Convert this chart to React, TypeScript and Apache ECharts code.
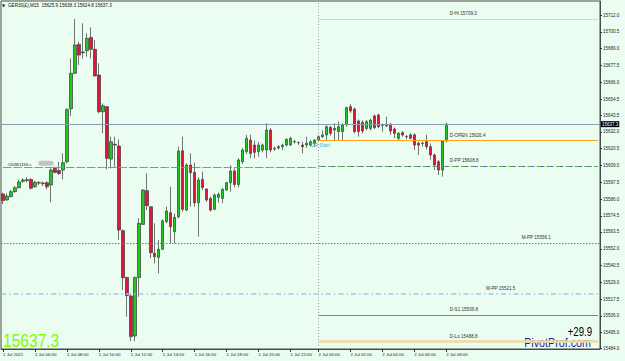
import React, { useEffect, useRef } from 'react';
import * as echarts from 'echarts';

// [open, high, low, close] per M15 bar, 1 Jul 2021 04:00 -> 2 Jul 2021 08:00
const bars: number[][] = [
  [15589.5, 15590.4, 15582.6, 15585.0],
  [15585.4, 15590.0, 15585.0, 15588.1],
  [15587.7, 15592.2, 15587.2, 15591.1],
  [15591.1, 15595.0, 15590.4, 15593.8],
  [15593.8, 15599.5, 15593.4, 15597.7],
  [15598.2, 15600.2, 15597.2, 15599.1],
  [15599.3, 15601.0, 15597.5, 15598.8],
  [15599.5, 15600.2, 15592.7, 15593.4],
  [15594.5, 15598.6, 15593.8, 15597.5],
  [15597.3, 15598.2, 15595.6, 15597.0],
  [15597.0, 15598.0, 15595.0, 15596.6],
  [15597.2, 15598.2, 15592.7, 15594.5],
  [15595.7, 15607.1, 15583.8, 15605.9],
  [15607.1, 15608.2, 15603.6, 15604.3],
  [15605.5, 15611.6, 15602.5, 15603.6],
  [15605.9, 15617.3, 15599.5, 15610.9],
  [15611.6, 15648.1, 15610.5, 15647.4],
  [15647.9, 15682.3, 15642.9, 15672.1],
  [15672.1, 15709.3, 15671.6, 15691.5],
  [15691.9, 15693.7, 15677.8, 15684.6],
  [15686.7, 15706.3, 15682.3, 15686.2],
  [15687.6, 15699.5, 15683.5, 15696.0],
  [15696.7, 15703.6, 15682.3, 15688.5],
  [15688.5, 15694.9, 15669.8, 15670.3],
  [15670.9, 15678.9, 15644.7, 15645.8],
  [15645.8, 15651.5, 15631.0, 15649.9],
  [15649.3, 15649.7, 15606.4, 15613.9],
  [15613.4, 15628.7, 15607.1, 15625.3],
  [15623.5, 15628.7, 15608.2, 15623.0],
  [15622.3, 15626.9, 15558.0, 15564.8],
  [15564.4, 15565.3, 15523.8, 15532.2],
  [15532.4, 15532.9, 15505.5, 15519.9],
  [15519.7, 15521.5, 15488.8, 15491.9],
  [15492.3, 15532.9, 15488.8, 15532.4],
  [15532.4, 15572.9, 15519.2, 15569.4],
  [15568.7, 15592.7, 15568.3, 15592.2],
  [15591.8, 15603.6, 15578.5, 15581.5],
  [15580.8, 15580.8, 15545.5, 15549.3],
  [15548.9, 15569.4, 15542.0, 15546.6],
  [15546.1, 15558.0, 15535.2, 15551.6],
  [15551.6, 15572.2, 15551.6, 15571.2],
  [15570.6, 15580.8, 15569.4, 15577.8],
  [15576.7, 15594.5, 15555.7, 15567.1],
  [15563.7, 15576.2, 15555.7, 15573.5],
  [15574.0, 15621.9, 15572.8, 15618.9],
  [15619.1, 15628.7, 15577.4, 15579.0],
  [15578.5, 15610.5, 15577.8, 15609.3],
  [15609.3, 15617.3, 15580.8, 15604.1],
  [15604.3, 15610.9, 15580.8, 15583.5],
  [15583.5, 15600.9, 15560.3, 15599.1],
  [15599.5, 15604.8, 15592.2, 15594.0],
  [15592.9, 15593.4, 15584.2, 15585.4],
  [15586.5, 15587.7, 15577.4, 15578.5],
  [15579.0, 15590.0, 15578.5, 15588.8],
  [15587.2, 15590.4, 15583.5, 15589.3],
  [15586.5, 15593.4, 15583.1, 15592.7],
  [15592.2, 15597.9, 15591.8, 15597.2],
  [15597.2, 15609.3, 15591.0, 15605.2],
  [15605.2, 15607.0, 15594.0, 15596.0],
  [15596.0, 15614.0, 15594.0, 15612.8],
  [15611.6, 15621.0, 15610.0, 15619.6],
  [15618.5, 15629.9, 15617.0, 15627.6],
  [15626.4, 15630.0, 15614.0, 15617.3],
  [15623.0, 15626.0, 15614.0, 15618.0],
  [15618.5, 15625.0, 15615.0, 15623.0],
  [15619.6, 15624.0, 15618.0, 15623.0],
  [15619.6, 15637.9, 15614.0, 15633.3],
  [15633.3, 15634.5, 15618.0, 15619.6],
  [15620.7, 15622.0, 15619.0, 15620.3],
  [15621.0, 15623.0, 15620.0, 15621.9],
  [15621.9, 15624.0, 15619.6, 15623.0],
  [15623.0, 15627.6, 15622.0, 15626.9],
  [15623.0, 15628.7, 15622.5, 15627.6],
  [15625.5, 15626.4, 15624.0, 15625.2],
  [15624.8, 15625.3, 15623.0, 15624.6],
  [15623.0, 15625.3, 15617.3, 15621.9],
  [15623.0, 15628.7, 15621.0, 15624.2],
  [15623.0, 15626.4, 15621.9, 15625.3],
  [15624.2, 15627.0, 15621.9, 15626.4],
  [15626.4, 15630.0, 15626.0, 15628.7],
  [15628.7, 15633.0, 15628.0, 15629.9],
  [15629.9, 15636.5, 15626.4, 15635.6],
  [15635.2, 15636.0, 15629.5, 15631.0],
  [15633.3, 15637.9, 15626.4, 15634.4],
  [15632.2, 15639.0, 15626.4, 15635.6],
  [15632.2, 15638.0, 15626.4, 15636.7],
  [15636.7, 15649.3, 15635.6, 15648.6],
  [15649.3, 15651.0, 15645.0, 15646.3],
  [15647.7, 15648.6, 15631.0, 15632.2],
  [15639.5, 15640.5, 15628.7, 15632.2],
  [15638.5, 15640.0, 15631.0, 15632.6],
  [15634.4, 15640.1, 15633.0, 15639.0],
  [15634.4, 15641.0, 15633.0, 15640.1],
  [15642.9, 15644.0, 15634.0, 15634.9],
  [15643.6, 15644.5, 15634.5, 15635.6],
  [15636.9, 15637.9, 15632.2, 15636.5],
  [15636.0, 15642.4, 15635.6, 15636.4],
  [15637.2, 15638.0, 15630.0, 15632.6],
  [15634.0, 15635.0, 15627.6, 15631.0],
  [15627.6, 15632.0, 15626.0, 15631.0],
  [15631.5, 15632.6, 15628.7, 15629.9],
  [15628.9, 15630.0, 15627.0, 15628.7],
  [15630.0, 15631.0, 15627.0, 15627.6],
  [15630.0, 15631.0, 15619.6, 15623.0],
  [15624.2, 15625.3, 15616.2, 15623.0],
  [15624.4, 15625.3, 15622.0, 15624.2],
  [15625.3, 15630.0, 15620.0, 15621.9],
  [15621.9, 15624.0, 15613.0, 15616.2],
  [15616.2, 15617.3, 15606.0, 15609.3],
  [15611.6, 15612.8, 15602.5, 15605.9],
  [15605.9, 15625.3, 15601.4, 15625.9],
  [15625.9, 15638.3, 15624.8, 15637.3],
];

const xTickIndex = [0, 8, 16, 24, 32, 40, 48, 56, 64, 72, 79, 87, 95, 103, 111];
const xTickLabels = [
  '1 Jul 2021', '1 Jul 06:00', '1 Jul 08:00', '1 Jul 10:00', '1 Jul 12:00',
  '1 Jul 14:00', '1 Jul 16:00', '1 Jul 18:00', '1 Jul 20:00', '1 Jul 22:00',
  '2 Jul 00:00', '2 Jul 02:00', '2 Jul 04:00', '2 Jul 06:00', '2 Jul 08:00',
];
const yTickLabels = [
  15712.0, 15700.5, 15689.0, 15677.5, 15666.0, 15654.5, 15643.5, 15632.0, 15620.5,
  15609.0, 15597.5, 15586.0, 15574.5, 15563.5, 15552.0, 15540.5, 15529.0, 15517.5,
  15506.0, 15495.0, 15484.0,
];
const levelNames = ['D-Hi', 'D-OPEN', 'D-PP', 'M-PP', 'W-PP', 'D-S1', 'D-Lo'];
const levelValues = [15709.3, 15626.4, 15608.8, 15556.1, 15521.5, 15506.8, 15488.8];
const prevDayPP = 15607.8;
const symbolTitle = 'GER30(£),M15';
const lastBar = [15625.9, 15638.3, 15624.8, 15637.3];
const lastPrice = 15637.3;
const changeText = '+29.9';
const brandText = 'PivotProf.com';
const dayStartText = 'DR Start';
const tradeTag = '#20361153 s';
const dayStartIndex = 79;
const totalSlots = 150;
const yMin = 15483.4;
const yMax = 15721.6;

const FONT = '"Liberation Sans", Arial, sans-serif';

export default function App() {
  const ref = useRef<HTMLDivElement>(null);
  useEffect(() => {
    if (!ref.current) return;
    const chart = echarts.init(ref.current, undefined, { renderer: 'svg' });
    const labelMap = new Map<number, string>();
    xTickIndex.forEach((idx, i) => labelMap.set(idx, xTickLabels[i]));
    const cats = Array.from({ length: totalSlots }, (_, i) => String(i));
    const endIdx = totalSlots - 1;

    const lvl = (name: string) => levelValues[levelNames.indexOf(name)];
    const seg = (v: number, from: number, to: number, style: any) => [
      { coord: [from, v], lineStyle: style },
      { coord: [to, v] },
    ];

    const labelSlots: Record<string, number> = {
      'D-Hi': 112, 'D-OPEN': 112, 'D-PP': 112, 'M-PP': 130, 'W-PP': 121, 'D-S1': 112, 'D-Lo': 112,
    };

    const levelLabelPoints = levelNames.map((n, i) => ({
      coord: [labelSlots[n], levelValues[i]],
      symbol: 'circle',
      symbolSize: 1,
      itemStyle: { color: 'rgba(0,0,0,0)' },
      label: {
        show: true,
        position: [0, -7],
        formatter: `${n} ${levelValues[i].toFixed(1)}`,
        fontSize: 4.6,
        fontFamily: FONT,
        color: '#333',
      },
    }));

    const option: any = {
      animation: false,
      backgroundColor: '#eafdf0',
      grid: {
        left: 0, right: 25, top: 1, bottom: 12,
        show: true, borderColor: '#4a4a4a', borderWidth: 1, backgroundColor: 'transparent',
      },
      xAxis: {
        type: 'category',
        data: cats,
        boundaryGap: true,
        axisLine: { show: true, lineStyle: { color: '#4a4a4a', width: 1 } },
        axisTick: {
          show: true, alignWithLabel: true, length: 3,
          interval: (i: number) => labelMap.has(i),
          lineStyle: { color: '#333' },
        },
        axisLabel: {
          interval: (i: number) => labelMap.has(i),
          formatter: (v: string) => labelMap.get(Number(v)) || '',
          align: 'left',
          margin: 3,
          fontSize: 4.4,
          fontFamily: FONT,
          color: '#222',
        },
        splitLine: { show: false },
      },
      yAxis: {
        type: 'value',
        position: 'right',
        min: yMin,
        max: yMax,
        scale: true,
        axisLine: { show: true, lineStyle: { color: '#4a4a4a', width: 1 } },
        axisTick: { show: true, length: 2, customValues: yTickLabels, lineStyle: { color: '#333' } },
        axisLabel: {
          customValues: yTickLabels,
          formatter: (v: number) => v.toFixed(1),
          margin: 3,
          fontSize: 4.5,
          fontFamily: FONT,
          color: '#222',
        },
        splitLine: { show: false },
      },
      series: [
        {
          type: 'candlestick',
          data: bars.map(([o, h, l, c]) => [o, c, l, h]),
          barWidth: 3,
          itemStyle: {
            color: '#20c820',
            color0: '#e3143c',
            borderColor: '#3a3a3a',
            borderColor0: '#3a3a3a',
            borderWidth: 0.7,
          },
          markLine: {
            silent: true,
            symbol: ['none', 'none'],
            animation: false,
            label: { show: false },
            data: [
              { xAxis: dayStartIndex, lineStyle: { color: '#9a9a9a', type: [1, 2], width: 1 } },
              {
                yAxis: lastPrice,
                lineStyle: { color: '#8b9bb0', type: 'solid', width: 1 },
                label: {
                  show: true, position: 'end', formatter: lastPrice.toFixed(1), distance: 1,
                  color: '#fff', backgroundColor: '#000', padding: [1, 1, 0, 1],
                  fontSize: 4.5, fontFamily: FONT,
                },
              },
              { yAxis: lvl('M-PP'), lineStyle: { color: '#5a78e6', type: [1.5, 1.5], width: 1 } },
              { yAxis: lvl('W-PP'), lineStyle: { color: '#a6c6ee', type: [5, 3, 1.5, 3], width: 1.5 } },
              seg(prevDayPP, 0, dayStartIndex, { color: '#58b848', type: [5, 2, 1.5, 2], width: 1.2 }),
              seg(prevDayPP, 0, dayStartIndex, { color: '#e86a50', type: [2, 8.5], dashOffset: -5.5, width: 1.2 }),
              seg(lvl('D-Hi'), dayStartIndex, endIdx, { color: '#f4cf98', type: 'solid', width: 1 }),
              seg(lvl('D-OPEN'), dayStartIndex, endIdx, { color: '#ffa21a', type: 'solid', width: 1 }),
              seg(lvl('D-PP'), dayStartIndex, endIdx, { color: '#4fb04f', type: [4, 2, 1.5, 2], width: 1.2 }),
              seg(lvl('D-PP'), dayStartIndex, endIdx, { color: '#7a3fc8', type: [2, 7.5], dashOffset: -4.5, width: 1.2 }),
              seg(lvl('D-S1'), dayStartIndex, endIdx, { color: '#49ad4d', type: 'solid', width: 1 }),
              seg(lvl('D-Lo'), dayStartIndex, endIdx, { color: '#f2d9a2', type: 'solid', width: 2.5 }),
            ],
          },
          markPoint: {
            silent: true,
            animation: false,
            data: [
              ...levelLabelPoints,
              {
                coord: [dayStartIndex - 2, 15623.0],
                symbol: 'circle', symbolSize: 1, itemStyle: { color: 'rgba(0,0,0,0)' },
                label: {
                  show: true, position: 'right', distance: 0, formatter: dayStartText,
                  fontSize: 5, fontFamily: FONT, color: '#5aaed6',
                },
              },
              {
                coord: [1, 15610.0],
                symbol: 'circle', symbolSize: 1, itemStyle: { color: 'rgba(0,0,0,0)' },
                label: {
                  show: true, position: 'right', distance: 0, formatter: tradeTag,
                  fontSize: 4.2, fontFamily: FONT, color: '#111',
                },
              },
              {
                coord: [10, 15610.6],
                symbol: 'roundRect', symbolSize: [15, 5], symbolOffset: [3, 0],
                itemStyle: { color: '#c4c4c4' },
                label: { show: false },
              },
            ],
          },
        },
      ],
      graphic: [
        {
          type: 'text', x: 2, y: 5,
          style: { text: '▼', fontSize: 4, fontFamily: 'DejaVu Sans', fill: '#111', verticalAlign: 'middle', textVerticalAlign: 'middle' },
        },
        {
          type: 'text', x: 8, y: 5.3,
          style: {
            text: `${symbolTitle}  ${lastBar.map((v) => v.toFixed(1)).join(' ')}`,
            fontSize: 4.6, fontFamily: FONT, fill: '#111',
            verticalAlign: 'middle', textVerticalAlign: 'middle',
          },
        },
        {
          type: 'text', x: 3, y: 340, scaleX: 0.82,
          style: {
            text: lastPrice.toFixed(1), fontSize: 19, fontFamily: FONT, fill: '#7cfc00',
            verticalAlign: 'middle', textVerticalAlign: 'middle',
          },
        },
        {
          type: 'text', x: 592, y: 332, scaleX: 0.8,
          style: {
            text: changeText, fontSize: 12, fontFamily: FONT, fill: '#000',
            align: 'right', textAlign: 'right', verticalAlign: 'middle', textVerticalAlign: 'middle',
          },
        },
        {
          type: 'text', x: 591, y: 342, scaleX: 0.86,
          style: {
            text: brandText, fontSize: 12.5, fontFamily: FONT, fill: '#1c1fa0',
            align: 'right', textAlign: 'right', verticalAlign: 'middle', textVerticalAlign: 'middle',
          },
        },
      ],
    };
    chart.setOption(option);
    return () => chart.dispose();
  }, []);

  return (
    <div
      ref={ref}
      style={{ position: 'fixed', left: 0, top: 0, width: 625, height: 361, background: '#eafdf0' }}
    />
  );
}
